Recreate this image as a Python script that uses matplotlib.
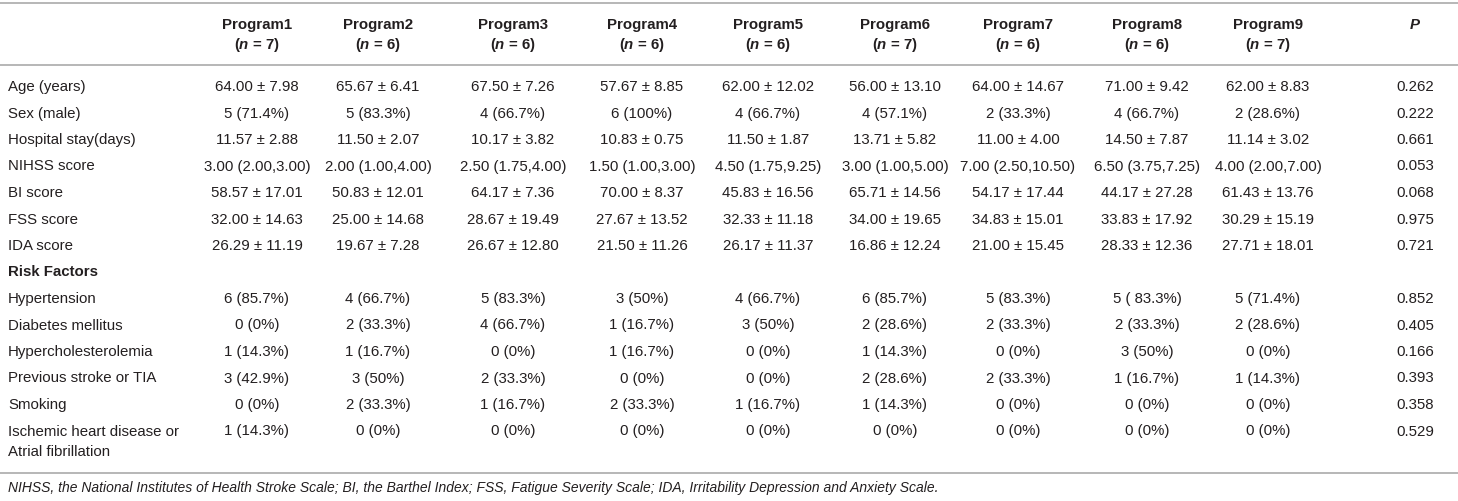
import matplotlib.pyplot as plt

plt.rcParams['font.family'] = ['Liberation Sans', 'DejaVu Sans']
plt.rcParams['mathtext.fontset'] = 'custom'
plt.rcParams['mathtext.it'] = 'Liberation Sans:italic:bold'
plt.rcParams['mathtext.rm'] = 'Liberation Sans:bold'

# Table data
programs = ['Program1', 'Program2', 'Program3', 'Program4', 'Program5',
            'Program6', 'Program7', 'Program8', 'Program9']
n_sizes = [7, 6, 6, 6, 6, 7, 6, 6, 7]

row_labels = ['Age (years)', 'Sex (male)', 'Hospital stay(days)', 'NIHSS score',
              'BI score', 'FSS score', 'IDA score', 'Risk Factors',
              'Hypertension', 'Diabetes mellitus', 'Hypercholesterolemia',
              'Previous stroke or TIA', 'Smoking',
              'Ischemic heart disease or\nAtrial fibrillation']

age = ['64.00 ± 7.98', '65.67 ± 6.41', '67.50 ± 7.26', '57.67 ± 8.85', '62.00 ± 12.02',
       '56.00 ± 13.10', '64.00 ± 14.67', '71.00 ± 9.42', '62.00 ± 8.83', '0.262']
sex = ['5 (71.4%)', '5 (83.3%)', '4 (66.7%)', '6 (100%)', '4 (66.7%)',
       '4 (57.1%)', '2 (33.3%)', '4 (66.7%)', '2 (28.6%)', '0.222']
stay = ['11.57 ± 2.88', '11.50 ± 2.07', '10.17 ± 3.82', '10.83 ± 0.75', '11.50 ± 1.87',
        '13.71 ± 5.82', '11.00 ± 4.00', '14.50 ± 7.87', '11.14 ± 3.02', '0.661']
nihss = ['3.00 (2.00,3.00)', '2.00 (1.00,4.00)', '2.50 (1.75,4.00)', '1.50 (1.00,3.00)',
         '4.50 (1.75,9.25)', '3.00 (1.00,5.00)', '7.00 (2.50,10.50)', '6.50 (3.75,7.25)',
         '4.00 (2.00,7.00)', '0.053']
bi = ['58.57 ± 17.01', '50.83 ± 12.01', '64.17 ± 7.36', '70.00 ± 8.37', '45.83 ± 16.56',
      '65.71 ± 14.56', '54.17 ± 17.44', '44.17 ± 27.28', '61.43 ± 13.76', '0.068']
fss = ['32.00 ± 14.63', '25.00 ± 14.68', '28.67 ± 19.49', '27.67 ± 13.52', '32.33 ± 11.18',
       '34.00 ± 19.65', '34.83 ± 15.01', '33.83 ± 17.92', '30.29 ± 15.19', '0.975']
ida = ['26.29 ± 11.19', '19.67 ± 7.28', '26.67 ± 12.80', '21.50 ± 11.26', '26.17 ± 11.37',
       '16.86 ± 12.24', '21.00 ± 15.45', '28.33 ± 12.36', '27.71 ± 18.01', '0.721']
risk = [''] * 10
hypertension = ['6 (85.7%)', '4 (66.7%)', '5 (83.3%)', '3 (50%)', '4 (66.7%)',
                '6 (85.7%)', '5 (83.3%)', '5 ( 83.3%)', '5 (71.4%)', '0.852']
diabetes = ['0 (0%)', '2 (33.3%)', '4 (66.7%)', '1 (16.7%)', '3 (50%)',
            '2 (28.6%)', '2 (33.3%)', '2 (33.3%)', '2 (28.6%)', '0.405']
hyperchol = ['1 (14.3%)', '1 (16.7%)', '0 (0%)', '1 (16.7%)', '0 (0%)',
             '1 (14.3%)', '0 (0%)', '3 (50%)', '0 (0%)', '0.166']
stroke = ['3 (42.9%)', '3 (50%)', '2 (33.3%)', '0 (0%)', '0 (0%)',
          '2 (28.6%)', '2 (33.3%)', '1 (16.7%)', '1 (14.3%)', '0.393']
smoking = ['0 (0%)', '2 (33.3%)', '1 (16.7%)', '2 (33.3%)', '1 (16.7%)',
           '1 (14.3%)', '0 (0%)', '0 (0%)', '0 (0%)', '0.358']
ischemic = ['1 (14.3%)', '0 (0%)', '0 (0%)', '0 (0%)', '0 (0%)',
            '0 (0%)', '0 (0%)', '0 (0%)', '0 (0%)', '0.529']

rows = [age, sex, stay, nihss, bi, fss, ida, risk, hypertension, diabetes,
        hyperchol, stroke, smoking, ischemic]

footnote = ('NIHSS, the National Institutes of Health Stroke Scale; BI, the Barthel Index; '
            'FSS, Fatigue Severity Scale; IDA, Irritability Depression and Anxiety Scale.')

# Layout (pixel coordinates)
W, H = 1458, 501
col_x = [257, 378, 513, 642, 768, 895, 1018, 1147, 1268, 1415]
label_x = 8
first_row_y = 87
row_step = 26.5
wrap_step = 20.5
text_color = '#231f20'
line_color = '#a3a3a3'
fs = 10.8

fig = plt.figure(figsize=(W / 100, H / 100), dpi=100)
ax = fig.add_axes([0, 0, 1, 1])
ax.set_xlim(0, W)
ax.set_ylim(H, 0)
ax.axis('off')

# Rules
for y in [3, 65, 473]:
    ax.axhline(y, color=line_color, linewidth=1.1)

# Header
for x, name, n in zip(col_x, programs, n_sizes):
    ax.text(x, 25, name, ha='center', va='center', fontsize=fs,
            fontweight='bold', color=text_color)
    ax.text(x, 45, '($n$ = %d)' % n, ha='center', va='center', fontsize=fs,
            fontweight='bold', color=text_color)
ax.text(col_x[-1], 25, 'P', ha='center', va='center', fontsize=fs,
        fontweight='bold', fontstyle='italic', color=text_color)

# Body
for i, (label, vals) in enumerate(zip(row_labels, rows)):
    y = first_row_y + i * row_step
    bold = label == 'Risk Factors'
    for k, part in enumerate(label.split('\n')):
        ax.text(label_x, y + k * wrap_step, part, ha='left', va='center',
                fontsize=fs, color=text_color,
                fontweight='bold' if bold else 'normal')
    for x, v in zip(col_x, vals):
        ax.text(x, y, v, ha='center', va='center', fontsize=fs, color=text_color)

ax.text(label_x, 488, footnote, ha='left', va='center', fontsize=10.0,
        fontstyle='italic', color=text_color)

fig.savefig('out.png', dpi=100)
